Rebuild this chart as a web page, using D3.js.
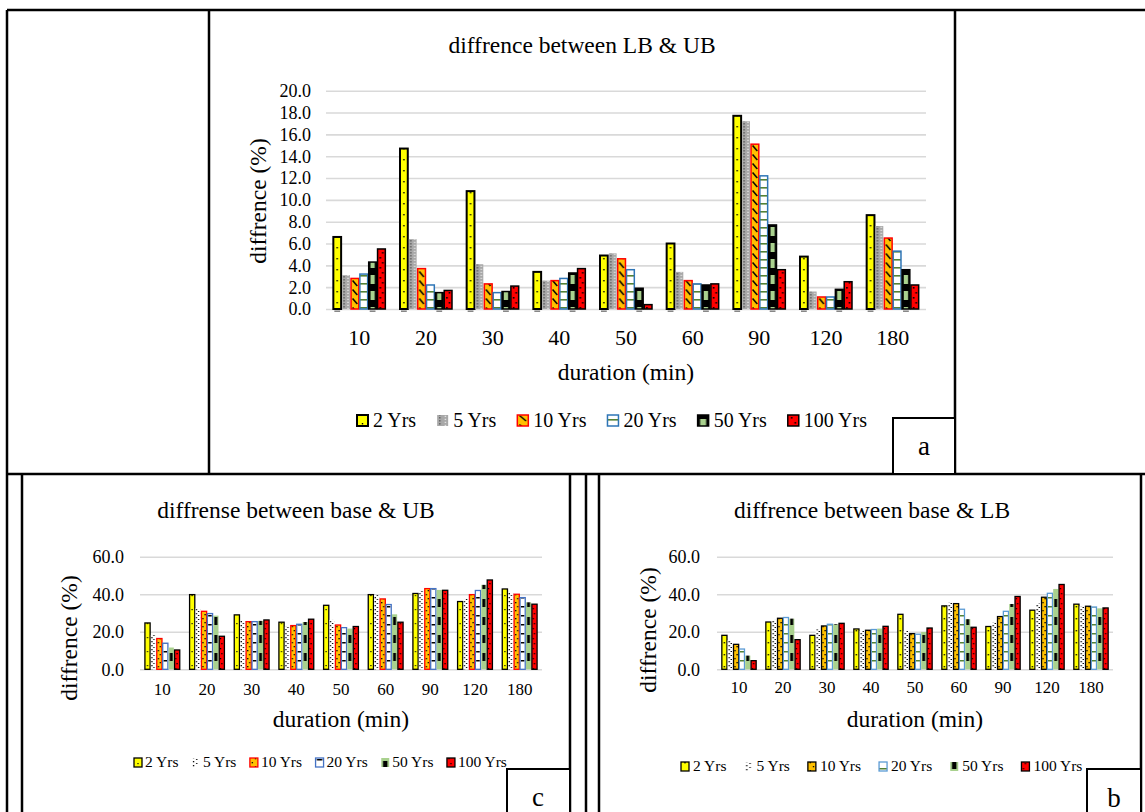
<!DOCTYPE html>
<html><head><meta charset="utf-8">
<script src="https://cdn.jsdelivr.net/npm/d3@7"></script>
<style>
body{margin:0;background:#fff}
svg{display:block}
svg text{font-family:"Liberation Serif","Times New Roman",Times,serif !important;}
</style>
</head><body>
<svg id="chart" width="1145" height="812"></svg>
<script>
// ---------------- data ----------------
const durations = ["10","20","30","40","50","60","90","120","180"];
const returnPeriods = ["2 Yrs","5 Yrs","10 Yrs","20 Yrs","50 Yrs","100 Yrs"];

// (a) difference between LB & UB, one row per return period
const lbUb = [
  [6.6, 14.7, 10.8, 3.4, 4.9, 6.0, 17.7, 4.8, 8.6],
  [3.1, 6.4, 4.1, 2.6, 5.1, 3.4, 17.2, 1.6, 7.6],
  [2.8, 3.7, 2.3, 2.6, 4.6, 2.6, 15.1, 1.1, 6.5],
  [3.2, 2.2, 1.5, 2.8, 3.6, 2.3, 12.2, 1.1, 5.3],
  [4.3, 1.5, 1.6, 3.3, 1.9, 2.2, 7.7, 1.8, 3.6],
  [5.5, 1.7, 2.1, 3.7, 0.4, 2.3, 3.6, 2.5, 2.2]
];
// (c) difference between base & UB
const baseUb = [
  [24.7, 39.8, 29.0, 25.1, 34.1, 39.8, 40.4, 36.1, 42.8],
  [18.3, 32.5, 25.8, 22.8, 26.3, 39.6, 41.8, 37.5, 40.9],
  [16.4, 30.9, 25.4, 23.3, 23.6, 37.5, 43.0, 39.8, 40.0],
  [13.9, 29.7, 25.4, 24.0, 22.2, 34.5, 43.0, 42.0, 38.2],
  [11.6, 28.6, 25.8, 25.2, 21.7, 29.3, 42.3, 45.0, 35.7],
  [10.3, 17.6, 26.3, 26.7, 22.8, 25.1, 42.1, 47.6, 34.7]
];
// (b) difference between base & LB
const baseLb = [
  [18.1, 25.2, 18.1, 21.5, 29.3, 33.8, 22.8, 31.5, 34.7],
  [15.5, 26.3, 21.3, 20.4, 20.4, 35.7, 25.1, 35.0, 33.6],
  [13.3, 27.2, 23.1, 20.8, 19.0, 35.0, 28.1, 38.4, 33.6],
  [10.8, 27.6, 24.0, 21.2, 18.7, 32.0, 30.9, 40.5, 33.2],
  [7.3, 27.0, 24.0, 21.7, 19.9, 26.7, 34.8, 42.8, 32.5],
  [4.6, 15.8, 24.5, 22.9, 22.0, 22.4, 38.8, 45.2, 32.7]
];

const ticksA = [0, 2, 4, 6, 8, 10, 12, 14, 16, 18, 20];
const ticksBC = [0, 20, 40, 60];
const titleA = "diffrence between LB & UB";
const titleC = "diffrense between base & UB";
const titleB = "diffrence between base & LB";
const xTitle = "duration (min)";
const yTitle = "diffrence (%)";
const panelLetters = ["a", "c", "b"];

// ---------------- styles ----------------
const FONT = '"Liberation Serif","Times New Roman",serif';
const dot = (cx, y, s, c) => ({cx, y, w: s, h: s, c: c || "#000"});

const stylesA = [
  {bg:"#FFFF00", stroke:"#000", sw:2, tile:11, marks:[dot(0.5,5,1.4)]},
  {bg:"#a8a8a8", stroke:"none", sw:0, tile:3, marks:[dot(0.25,0.3,1.1,"#222"), dot(0.75,1.8,1.1,"#fff")]},
  {bg:"#FFC000", stroke:"#FF0000", sw:1.5, tile:9, marks:[{t:"line", x1:0.2, y1:1.5, x2:0.8, y2:7, c:"#000", sw:1.5}]},
  {bg:"#ffffff", stroke:"#2E75B6", sw:1.5, tile:8, marks:[{cx:0.5, wf:1, y:3, h:1.6, c:"#548235"}]},
  {bg:"#000000", stroke:"#000", sw:1.5, tile:16, marks:[{cx:0.5, wf:0.55, y:3, h:9, c:"#A9D18E"}]},
  {bg:"#FF0000", stroke:"#000", sw:1.5, tile:10, marks:[dot(0.68,2,1.6), dot(0.35,7,1.6)]}
];
const stylesC = [
  {bg:"#FFFF00", stroke:"#000", sw:1.3, tile:14, marks:[dot(0.5,7,1.2)]},
  {bg:"#ffffff", stroke:"none", sw:0, tile:4, marks:[dot(0.2,1,1.3), dot(0.6,3,1.3)]},
  {bg:"#FFC000", stroke:"#FF0000", sw:1.3, tile:8, marks:[dot(0.3,2,1.3), dot(0.7,6,1.3)]},
  {bg:"#ffffff", stroke:"#4472C4", sw:1.3, tile:9, marks:[{cx:0.5, wf:0.7, y:3, h:1.5, c:"#000"}]},
  {bg:"#A9D18E", stroke:"none", sw:0, tile:18, marks:[{cx:0.5, wf:0.55, y:5, h:8, c:"#000"}]},
  {bg:"#FF0000", stroke:"#000", sw:1.3, tile:10, marks:[dot(0.5,3,1.3), dot(0.25,8,1.3)]}
];
const stylesB = [
  {bg:"#FFFF00", stroke:"#000", sw:1.3, tile:12, marks:[dot(0.5,6,1.4)]},
  {bg:"#ffffff", stroke:"none", sw:0, tile:4, marks:[dot(0.3,1,1.3), dot(0.7,3,1.3)]},
  {bg:"#FFC000", stroke:"#000", sw:1.3, tile:8, marks:[dot(0.3,2,1.3), dot(0.7,6,1.3)]},
  {bg:"#ffffff", stroke:"#5B9BD5", sw:1.3, tile:9, marks:[{cx:0.5, wf:1, y:3, h:1.5, c:"#548235"}]},
  {bg:"#A9D18E", stroke:"none", sw:0, tile:18, marks:[{cx:0.5, wf:0.55, y:5, h:8, c:"#000"}]},
  {bg:"#FF0000", stroke:"#000", sw:1.3, tile:10, marks:[dot(0.5,3,1.3), dot(0.25,8,1.3)]}
];

const panels = [
  {key:"a", data:lbUb, styles:stylesA, title:titleA, max:20, ticks:ticksA,
   xr:[326,926], yr:[309,90.7], tickFs:18, tickPad:15, xFs:22, xBase:36,
   titlePos:[582,53], titleFs:23.5, xtPos:[626,380], ytPos:[266,201], axFs:23.5,
   legend:{x:357, y:415, mw:11, mh:11, tx:16, gap:21, fs:20, base:427}, dashes:true},
  {key:"c", data:baseUb, styles:stylesC, title:titleC, max:60, ticks:ticksBC,
   xr:[140,542], yr:[669.3,556.7], tickFs:18, tickPad:16, xFs:17, xBase:26,
   titlePos:[296,518], titleFs:23.5, xtPos:[341,727], ytPos:[77,638], axFs:23.5,
   legend:{x:134, y:758, mw:8, mh:9, tx:11, gap:13.5, fs:15.5, base:767}},
  {key:"b", data:baseLb, styles:stylesB, title:titleB, max:60, ticks:ticksBC,
   xr:[717,1113], yr:[669.3,556.7], tickFs:18, tickPad:17, xFs:17, xBase:24,
   titlePos:[872,518], titleFs:23.5, xtPos:[915,727], ytPos:[656,630], axFs:23.5,
   legend:{x:681, y:762, mw:8, mh:9, tx:12, gap:18, fs:15.5, base:771}}
];

// ---------------- drawing ----------------
const svg = d3.select("#chart");
const defs = svg.append("defs");
svg.append("rect").attr("width",1145).attr("height",812).attr("fill","#fff");

function makePattern(id, st, x, w) {
  const p = defs.append("pattern").attr("id", id).attr("patternUnits","userSpaceOnUse")
    .attr("x", x).attr("y", 0).attr("width", w).attr("height", st.tile);
  p.append("rect").attr("width", w).attr("height", st.tile).attr("fill", st.bg);
  st.marks.forEach(m => {
    if (m.t === "line") {
      p.append("line").attr("x1", m.x1*w).attr("y1", m.y1).attr("x2", m.x2*w).attr("y2", m.y2)
        .attr("stroke", m.c).attr("stroke-width", m.sw);
    } else {
      const mw = m.wf ? m.wf*w : m.w;
      p.append("rect").attr("x", m.cx*w - mw/2).attr("y", m.y).attr("width", mw).attr("height", m.h).attr("fill", m.c);
    }
  });
}

function drawPanel(P) {
  const g = svg.append("g").attr("font-family", FONT);
  const x0 = d3.scaleBand().domain(durations).range(P.xr);
  const inset = x0.bandwidth()*0.11;
  const x1 = d3.scaleBand().domain(returnPeriods).range([inset, x0.bandwidth()-inset]).paddingInner(0.12);
  const y = d3.scaleLinear().domain([0, P.max]).range(P.yr);

  // gridlines + y tick labels
  const ya = g.append("g").attr("transform", `translate(${P.xr[0]},0)`)
    .call(d3.axisLeft(y).tickValues(P.ticks).tickFormat(d3.format(".1f"))
      .tickSize(-(P.xr[1]-P.xr[0])).tickPadding(P.tickPad));
  ya.attr("font-family", FONT);
  ya.select(".domain").remove();
  ya.selectAll("line").attr("stroke","#d9d9d9").attr("stroke-width",1.6);
  ya.selectAll("text").attr("font-size", P.tickFs).attr("fill","#000").attr("dy","0.33em");

  // x tick labels
  const xa = g.append("g").attr("transform", `translate(0,${P.yr[0]})`)
    .call(d3.axisBottom(x0).tickSize(0));
  xa.attr("font-family", FONT);
  xa.select(".domain").remove();
  xa.selectAll("text").attr("y", P.xBase).attr("dy", 0).attr("font-size", P.xFs).attr("fill","#000");

  // bars
  const cells = [];
  P.data.forEach((row, si) => row.forEach((v, ci) => {
    const bx = x0(durations[ci]) + x1(returnPeriods[si]);
    cells.push({si, ci, v, x: bx, w: x1.bandwidth()});
  }));
  cells.forEach(d => makePattern(`p-${P.key}-${d.si}-${d.ci}`, P.styles[d.si], d.x, d.w));
  g.append("g").selectAll("rect").data(cells).join("rect")
    .attr("x", d => d.x).attr("width", d => d.w)
    .attr("y", d => y(d.v)).attr("height", d => y(0) - y(d.v))
    .attr("fill", d => `url(#p-${P.key}-${d.si}-${d.ci})`)
    .attr("stroke", d => P.styles[d.si].stroke)
    .attr("stroke-width", d => P.styles[d.si].sw);
  if (P.dashes) {
    g.append("g").selectAll("line").data(cells.filter(d => d.si === 0 || d.si === 4)).join("line")
      .attr("x1", d => d.x + 1).attr("x2", d => d.x + d.w - 1)
      .attr("y1", y(0) + 2.2).attr("y2", y(0) + 2.2)
      .attr("stroke", "#7a7a7a").attr("stroke-width", 1.4);
  }

  // titles
  g.append("text").attr("x", P.titlePos[0]).attr("y", P.titlePos[1]).attr("text-anchor","middle")
    .attr("font-size", P.titleFs).text(P.title);
  g.append("text").attr("x", P.xtPos[0]).attr("y", P.xtPos[1]).attr("text-anchor","middle")
    .attr("font-size", P.axFs).text(xTitle);
  g.append("text").attr("transform", `translate(${P.ytPos[0]},${P.ytPos[1]}) rotate(-90)`)
    .attr("text-anchor","middle").attr("font-size", P.axFs).text(yTitle);

  // legend
  const L = P.legend;
  let cx = L.x;
  returnPeriods.forEach((name, si) => {
    const st = P.styles[si];
    makePattern(`lg-${P.key}-${si}`, st, cx, L.mw);
    g.append("rect").attr("x", cx).attr("y", L.y).attr("width", L.mw).attr("height", L.mh)
      .attr("fill", `url(#lg-${P.key}-${si})`)
      .attr("stroke", st.stroke).attr("stroke-width", st.sw);
    const t = g.append("text").attr("x", cx + L.tx).attr("y", L.base).attr("font-size", L.fs).text(name);
    cx += L.tx + t.node().getComputedTextLength() + L.gap;
  });
}

panels.forEach(drawPanel);

// ---------------- frame ----------------
const frameLines = [
  [7,10,1145,10],[7,10,7,812],[209,10,209,474],[955,10,955,474],[7,474,1145,474],
  [22,474,22,812],[570,474,570,812],[586,474,586,812],[599,474,599,812],[1141,474,1141,812]
];
svg.append("g").selectAll("line").data(frameLines).join("line")
  .attr("x1", d => d[0]).attr("y1", d => d[1]).attr("x2", d => d[2]).attr("y2", d => d[3])
  .attr("stroke", "#000").attr("stroke-width", 2.5);
const letterBoxes = [[893,418,62,56],[507,769,63,50],[1087,769,54,50]];
const letterPos = [[924,455],[538,806],[1114,807]];
const lb = svg.append("g").attr("font-family", FONT);
letterBoxes.forEach((b, i) => {
  lb.append("rect").attr("x", b[0]).attr("y", b[1]).attr("width", b[2]).attr("height", b[3])
    .attr("fill", "#fff").attr("stroke", "#000").attr("stroke-width", 2);
  lb.append("text").attr("x", letterPos[i][0]).attr("y", letterPos[i][1]).attr("text-anchor","middle")
    .attr("font-size", 27).text(panelLetters[i]);
});
</script>
</body></html>
